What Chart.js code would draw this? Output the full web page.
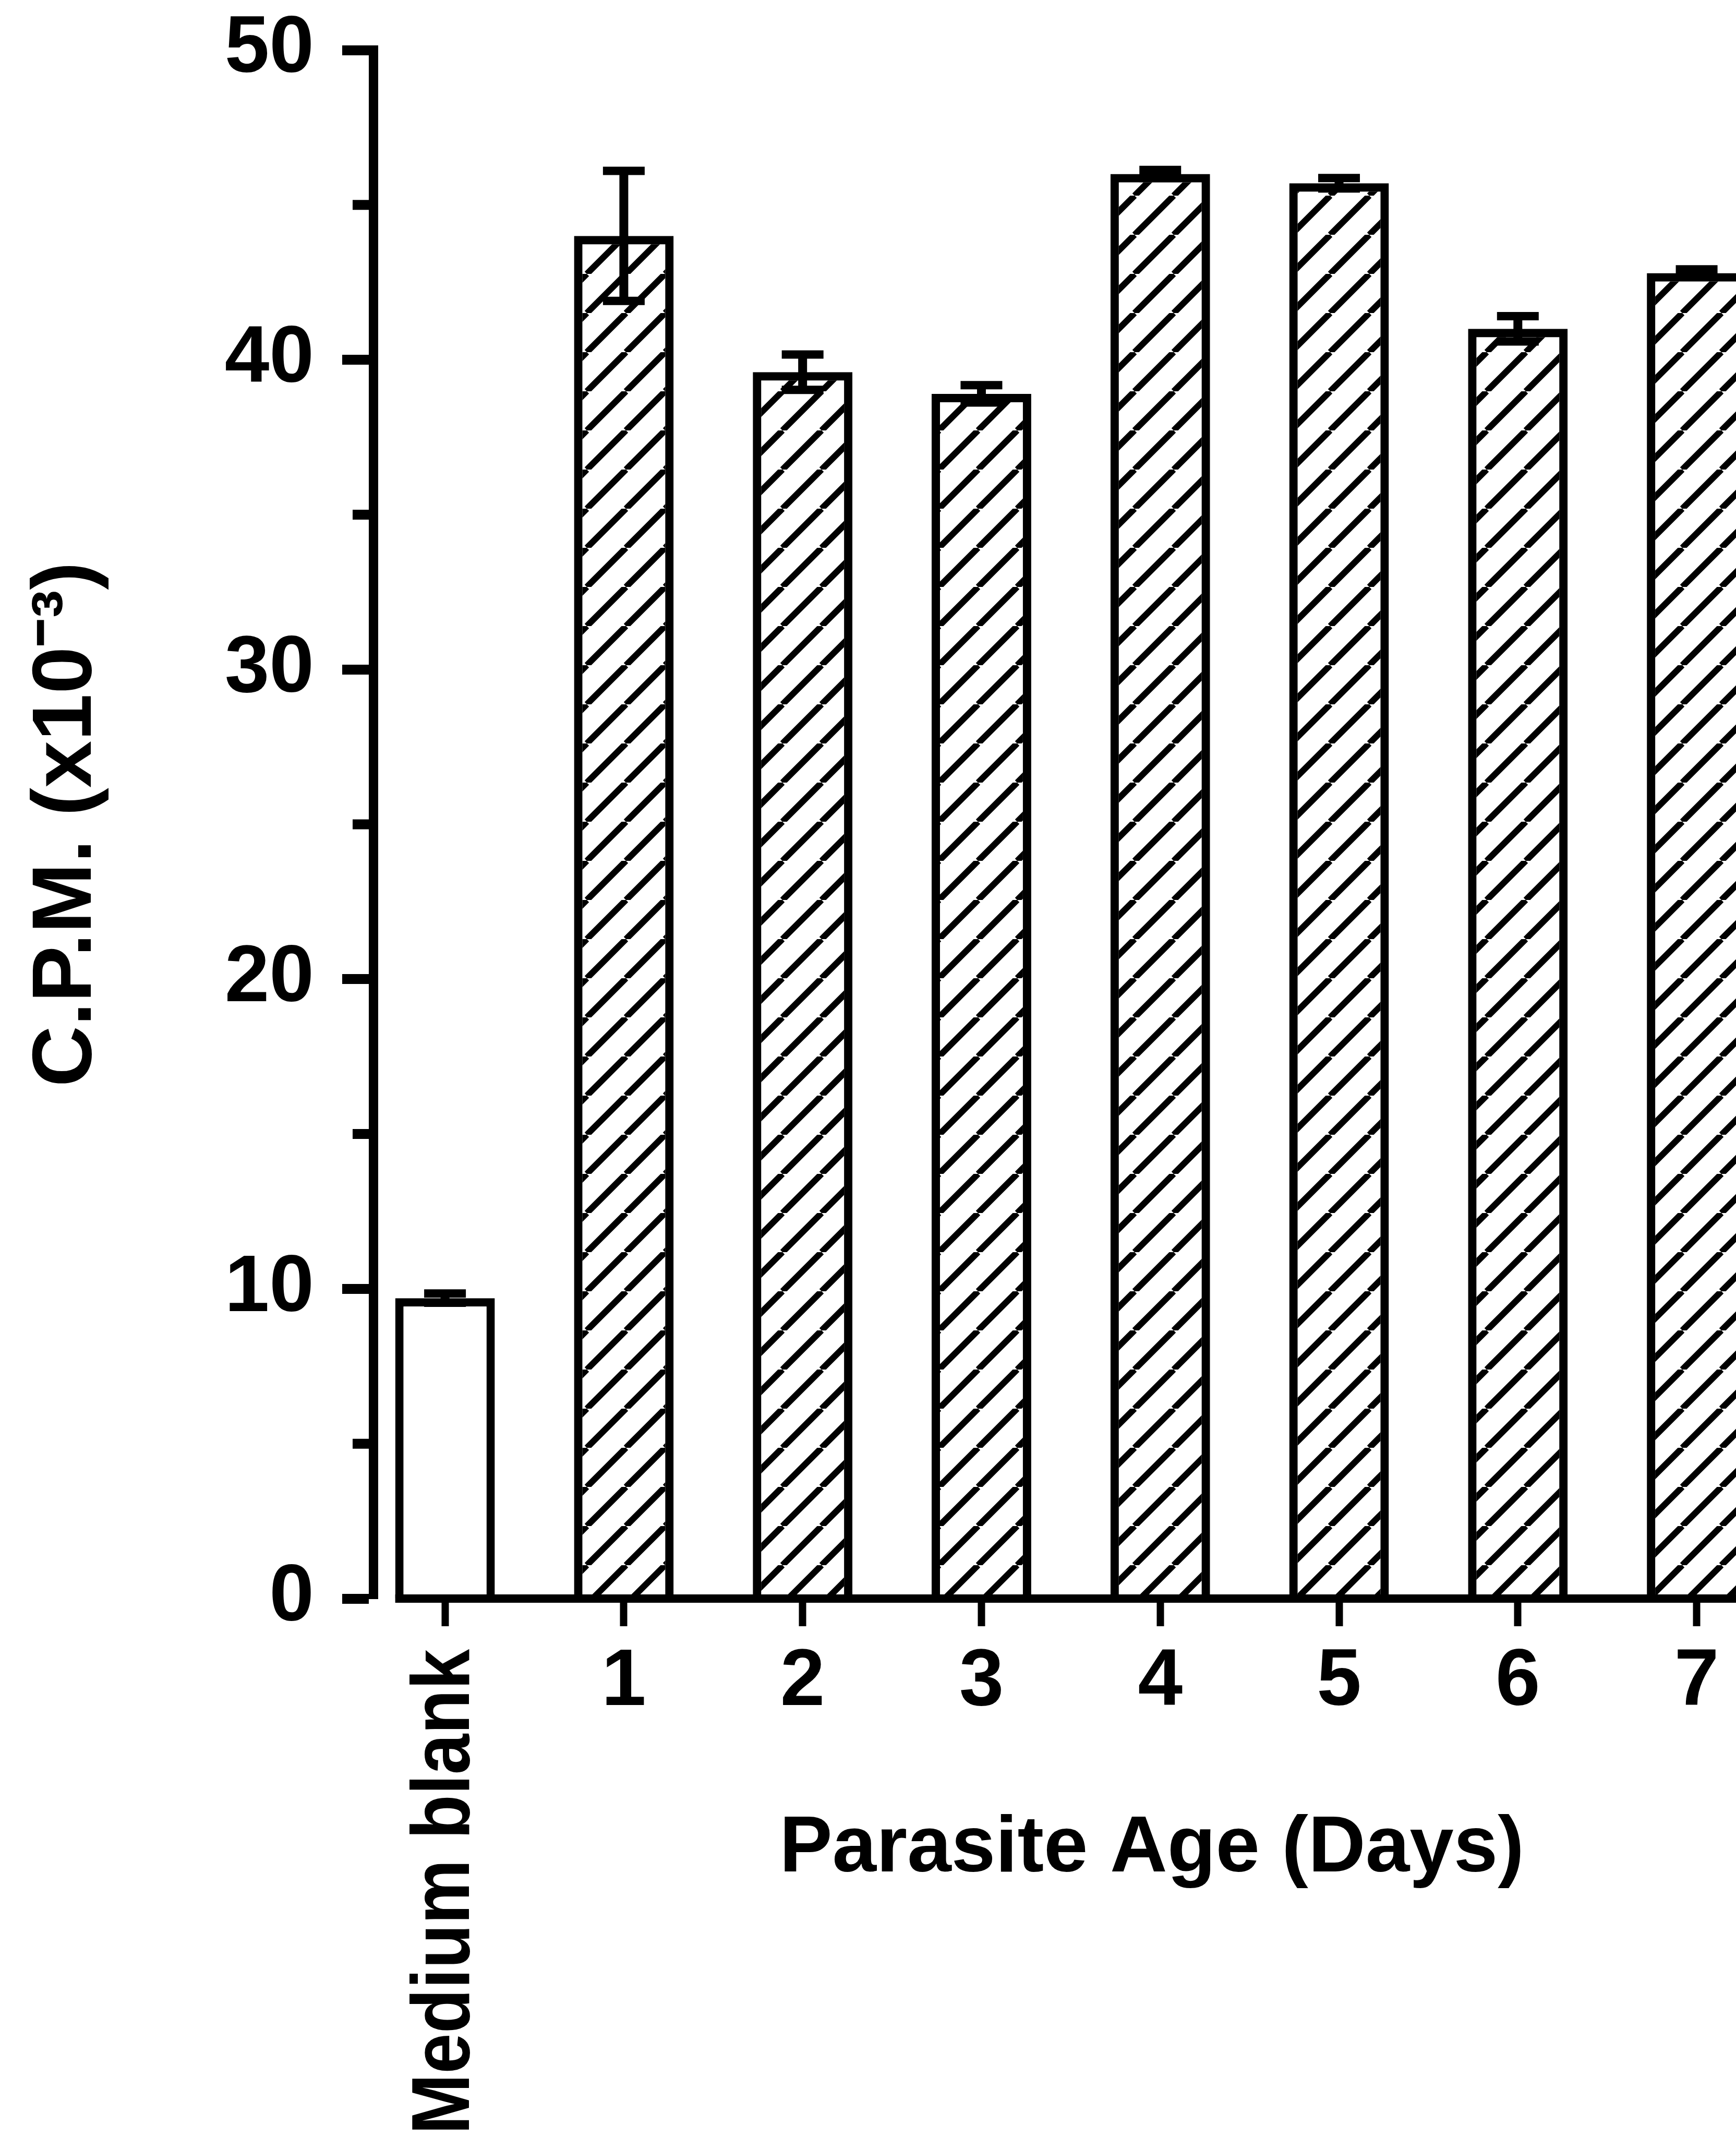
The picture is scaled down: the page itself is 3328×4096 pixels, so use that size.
<!DOCTYPE html>
<html>
<head>
<meta charset="utf-8">
<title>C.P.M. vs Parasite Age</title>
<script src="https://cdn.jsdelivr.net/npm/chart.js@4.4.0/dist/chart.umd.min.js"></script>
<style>
  html, body { margin: 0; padding: 0; background: #fff; overflow: hidden; }
  canvas { display: block; }
</style>
</head>
<body>
<canvas id="cpmChart" width="3328" height="4096"></canvas>
<script>
// Counts per minute (x10^-3) by parasite age
const categories = ['Medium blank', '1', '2', '3', '4', '5', '6', '7'];
const cpmValues = [9.7, 44.0, 39.6, 38.9, 46.0, 45.7, 41.0, 42.8];
const cpmErrors = [0.15, 2.1, 0.57, 0.28, 0.13, 0.17, 0.41, 0.12];
const yMin = 0;
const yMax = 50;

const FONT = "'Liberation Sans', Arial, Helvetica, sans-serif";

// Diagonal hatch fill for the parasite bars
function makeHatch(ctx) {
    const s = 75;
    const tile = document.createElement('canvas');
    tile.width = s;
    tile.height = s;
    const g = tile.getContext('2d');
    g.strokeStyle = '#000';
    g.lineWidth = 12;
    g.beginPath();
    [-s, 0, s].forEach(k => {
        g.moveTo(k, s);
        g.lineTo(k + s, 0);
    });
    g.stroke();
    return ctx.createPattern(tile, 'repeat');
}

// Axis line, error bars, minor ticks and the extra labels
const axisExtras = {
    id: 'axisExtras',
    afterDatasetsDraw(chart) {
        const { ctx, chartArea, scales: { y } } = chart;
        const bars = chart.getDatasetMeta(0).data;
        const y0 = y.getPixelForValue(0);

        ctx.save();
        ctx.strokeStyle = '#000';

        // x axis starts at the blank bar
        ctx.lineWidth = 16;
        ctx.beginPath();
        ctx.moveTo(bars[0].x - bars[0].width / 2, y0);
        ctx.lineTo(chartArea.right, y0);
        ctx.stroke();

        bars.forEach((bar, i) => {
            const top = y.getPixelForValue(cpmValues[i] + cpmErrors[i]);
            const bottom = y.getPixelForValue(cpmValues[i] - cpmErrors[i]);
            ctx.lineWidth = 17;
            ctx.beginPath();
            ctx.moveTo(bar.x, top);
            ctx.lineTo(bar.x, bottom);
            ctx.stroke();
            ctx.lineWidth = 16;
            ctx.beginPath();
            ctx.moveTo(bar.x - 40, top);
            ctx.lineTo(bar.x + 40, top);
            ctx.moveTo(bar.x - 40, bottom);
            ctx.lineTo(bar.x + 40, bottom);
            ctx.stroke();
        });
        ctx.restore();
    },
    afterDraw(chart) {
        const { ctx, chartArea, scales: { y } } = chart;
        const bars = chart.getDatasetMeta(0).data;

        ctx.save();
        ctx.strokeStyle = '#000';
        ctx.fillStyle = '#000';

        // short ticks between the labelled ones
        ctx.lineWidth = 19;
        y.ticks.forEach(t => {
            if (t.value % 10 === 0) return;
            const py = y.getPixelForValue(t.value);
            ctx.beginPath();
            ctx.moveTo(chartArea.left, py);
            ctx.lineTo(chartArea.left - 40, py);
            ctx.stroke();
        });

        // vertical label under the blank bar
        ctx.save();
        ctx.translate(bars[0].x + 46, chartArea.bottom + 97);
        ctx.rotate(-Math.PI / 2);
        ctx.font = `bold 158px ${FONT}`;
        ctx.textAlign = 'right';
        ctx.textBaseline = 'alphabetic';
        ctx.fillText(categories[0], 0, 0, 930);
        ctx.restore();

        // x axis title
        ctx.font = `bold 152px ${FONT}`;
        ctx.textAlign = 'center';
        ctx.textBaseline = 'alphabetic';
        ctx.fillText('Parasite Age (Days)', 2208, chartArea.bottom + 523);

        ctx.restore();
    }
};

const canvas = document.getElementById('cpmChart');
const ctx = canvas.getContext('2d');
const hatch = makeHatch(ctx);

new Chart(ctx, {
    type: 'bar',
    data: {
        datasets: [{
            data: cpmValues.map((v, i) => ({ x: i, y: v })),
            backgroundColor: cpmValues.map((v, i) => i === 0 ? '#fff' : hatch),
            borderColor: '#000',
            borderWidth: 16,
            borderSkipped: 'start',
            categoryPercentage: 1,
            barPercentage: 0.557
        }]
    },
    options: {
        responsive: false,
        devicePixelRatio: 1,
        animation: false,
        layout: { padding: { top: 96, left: 0, right: 0, bottom: 0 } },
        plugins: {
            legend: { display: false },
            tooltip: { enabled: false }
        },
        scales: {
            x: {
                type: 'linear',
                offset: false,
                min: -0.4,
                max: 7.22,
                afterBuildTicks: scale => {
                    scale.ticks = categories.map((c, i) => ({ value: i }));
                },
                afterFit: scale => { scale.height = 1032; },
                ticks: {
                    callback: v => v === 0 ? '' : categories[v],
                    color: '#000',
                    font: { family: FONT, size: 154, weight: 'bold' },
                    padding: 16,
                    maxRotation: 0,
                    autoSkip: false
                },
                grid: {
                    offset: false,
                    drawOnChartArea: false,
                    tickLength: 53,
                    tickWidth: 14,
                    tickColor: '#000'
                },
                border: { display: false }
            },
            y: {
                min: yMin,
                max: yMax,
                afterFit: scale => {
                    scale.width = 716;
                    // the "50" label may sit in the top padding
                    scale.paddingTop = 0;
                    scale.paddingBottom = 0;
                },
                ticks: {
                    stepSize: 5,
                    callback: v => v % 10 === 0 ? v : '',
                    color: '#000',
                    font: { family: FONT, size: 154, weight: 'bold' },
                    padding: 54
                },
                grid: {
                    drawOnChartArea: false,
                    tickLength: 60,
                    tickWidth: 19,
                    tickColor: c => c.tick && c.tick.value % 10 === 0 ? '#000' : 'rgba(0,0,0,0)'
                },
                border: { display: true, color: '#000', width: 18 },
                title: {
                    display: true,
                    text: 'C.P.M. (x10⁻³)',
                    color: '#000',
                    font: { family: FONT, size: 162, weight: 'bold', lineHeight: 1 },
                    padding: { top: 48, bottom: 0 }
                }
            }
        }
    },
    plugins: [axisExtras]
});
</script>
</body>
</html>
